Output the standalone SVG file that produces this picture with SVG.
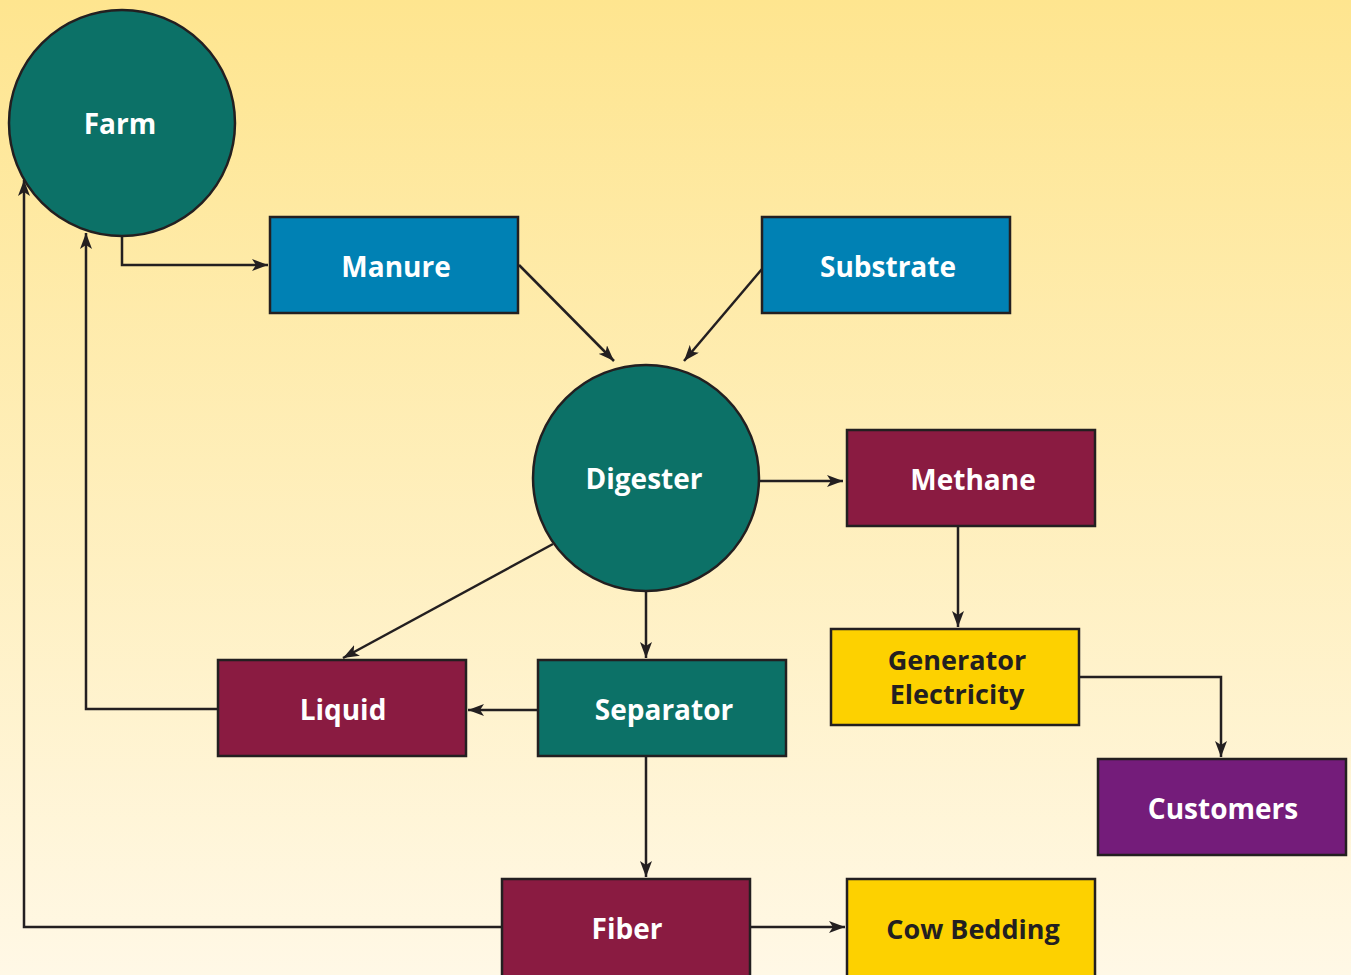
<svg xmlns="http://www.w3.org/2000/svg" width="1351" height="975" viewBox="0 0 1351 975">
<defs>
<linearGradient id="bg" x1="0" y1="0" x2="0" y2="1">
<stop offset="0" stop-color="#FEE58F"/>
<stop offset="1" stop-color="#FFF8E6"/>
</linearGradient>
<marker id="ah" viewBox="0 0 16 12" refX="16" refY="6" markerWidth="16" markerHeight="12" markerUnits="userSpaceOnUse" orient="auto">
<path d="M0,0 L16,6 L0,12 L4,6 z" fill="#231F20"/>
</marker>
<style>
.n{stroke:#231F20;stroke-width:2.5}
.teal{fill:#0C7167}.blue{fill:#0081B4}.mar{fill:#8A1B41}.yel{fill:#FDD100}.pur{fill:#741C7A}
.t{font-family:"Open Sans","Noto Sans","Liberation Sans",sans-serif;font-weight:bold;font-size:28px;text-anchor:middle;dominant-baseline:central;fill:#ffffff}
.d{fill:#231F20;font-size:27px}
.c{fill:none;stroke:#231F20;stroke-width:2.5;marker-end:url(#ah)}
</style>
</defs>
<rect width="1351" height="975" fill="url(#bg)"/>
<g id="connectors">
<path class="c" d="M122,236 V265 H268"/>
<path class="c" d="M519,265 L614,361"/>
<path class="c" d="M762,269 L684,361"/>
<path class="c" d="M759,481 H843"/>
<path class="c" d="M958,526 V627"/>
<path class="c" d="M1079,677 H1221 V757"/>
<path class="c" d="M553,544 L343,658"/>
<path class="c" d="M646,591 V658"/>
<path class="c" d="M538,710 H468"/>
<path class="c" d="M218,709 H86 V233"/>
<path class="c" d="M646,756 V877"/>
<path class="c" d="M502,927 H24 V180"/>
<path class="c" d="M750,927 H845"/>
</g>
<g id="farm"><circle class="n teal" cx="122" cy="123" r="113"/><text class="t" x="120" y="123">Farm</text></g>
<g id="manure"><rect class="n blue" x="270" y="217" width="248" height="96"/><text class="t" x="396" y="266">Manure</text></g>
<g id="substrate"><rect class="n blue" x="762" y="217" width="248" height="96"/><text class="t" x="888" y="266">Substrate</text></g>
<g id="digester"><circle class="n teal" cx="646" cy="478" r="113"/><text class="t" x="644" y="478">Digester</text></g>
<g id="methane"><rect class="n mar" x="847" y="430" width="248" height="96"/><text class="t" x="973" y="479">Methane</text></g>
<g id="generator"><rect class="n yel" x="831" y="629" width="248" height="96"/><text class="t d" x="957" y="659">Generator</text><text class="t d" x="957" y="693">Electricity</text></g>
<g id="customers"><rect class="n pur" x="1098" y="759" width="248" height="96"/><text class="t" x="1223" y="808">Customers</text></g>
<g id="liquid"><rect class="n mar" x="218" y="660" width="248" height="96"/><text class="t" x="343" y="709">Liquid</text></g>
<g id="separator"><rect class="n teal" x="538" y="660" width="248" height="96"/><text class="t" x="664" y="709">Separator</text></g>
<g id="fiber"><rect class="n mar" x="502" y="879" width="248" height="100"/><text class="t" x="627" y="928">Fiber</text></g>
<g id="cowbedding"><rect class="n yel" x="847" y="879" width="248" height="100"/><text class="t d" x="973" y="928">Cow Bedding</text></g>
</svg>
